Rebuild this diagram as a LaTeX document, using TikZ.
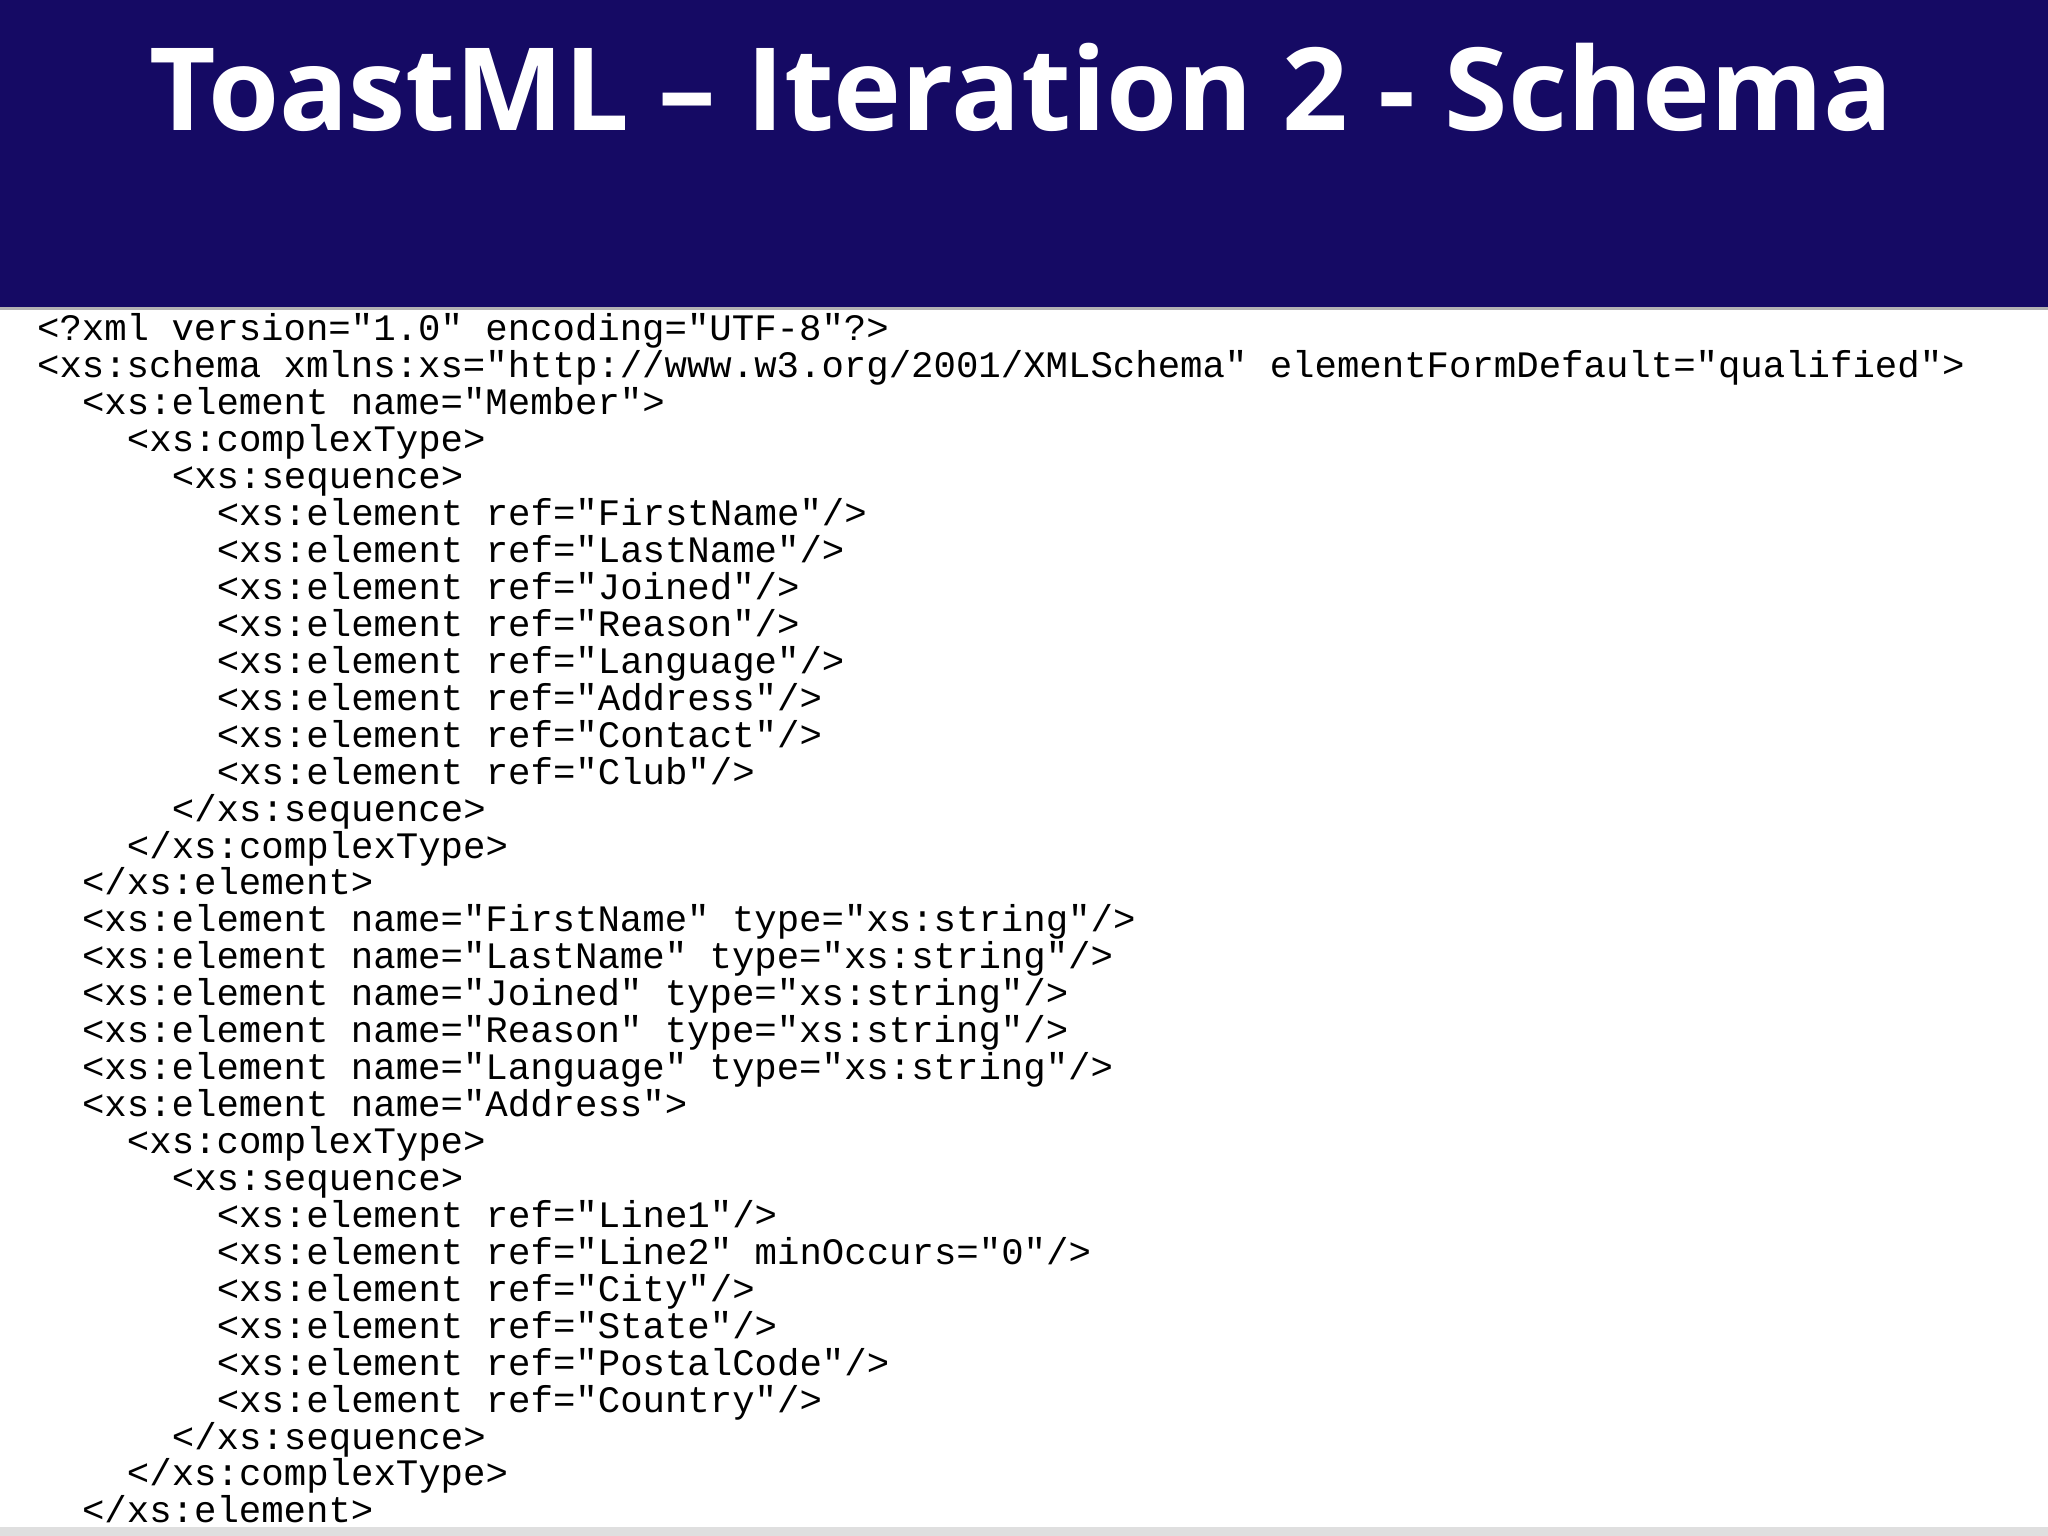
\documentclass[tikz,border=0pt]{standalone}
\usepackage{fontspec}
\setmainfont{Open Sans}
\setmonofont{Liberation Mono}
\definecolor{navy}{HTML}{150A64}
\begin{document}
\begin{tikzpicture}[x=1pt,y=-1pt,
  code/.style={anchor=base west,inner sep=0pt,font=\fontsize{14.3}{14.3}\selectfont\ttfamily}]
\useasboundingbox (0,0) rectangle (784,588);
\fill[white] (0,0) rectangle (784,588);
\fill[navy] (0,0) rectangle (784,117.5);
\fill[gray!60] (0,117.5) rectangle (784,118.5);
\fill[gray!25] (0,584.5) rectangle (784,588);
\node[anchor=base,text=white,inner sep=0pt,font=\fontsize{44}{44}\selectfont\bfseries] (title) at (391,50) {ToastML – Iteration 2 - Schema};
\newcommand\codeline[3]{\node[code] (l#1) at ({14+#2*8.6},{130.5+14.14*#1}) {#3};}
\codeline{0}{0}{<?xml version="1.0" encoding="UTF-8"?>}
\codeline{1}{0}{<xs:schema xmlns:xs="http://www.w3.org/2001/XMLSchema" elementFormDefault="qualified">}
\codeline{2}{2}{<xs:element name="Member">}
\codeline{3}{4}{<xs:complexType>}
\codeline{4}{6}{<xs:sequence>}
\codeline{5}{8}{<xs:element ref="FirstName"/>}
\codeline{6}{8}{<xs:element ref="LastName"/>}
\codeline{7}{8}{<xs:element ref="Joined"/>}
\codeline{8}{8}{<xs:element ref="Reason"/>}
\codeline{9}{8}{<xs:element ref="Language"/>}
\codeline{10}{8}{<xs:element ref="Address"/>}
\codeline{11}{8}{<xs:element ref="Contact"/>}
\codeline{12}{8}{<xs:element ref="Club"/>}
\codeline{13}{6}{</xs:sequence>}
\codeline{14}{4}{</xs:complexType>}
\codeline{15}{2}{</xs:element>}
\codeline{16}{2}{<xs:element name="FirstName" type="xs:string"/>}
\codeline{17}{2}{<xs:element name="LastName" type="xs:string"/>}
\codeline{18}{2}{<xs:element name="Joined" type="xs:string"/>}
\codeline{19}{2}{<xs:element name="Reason" type="xs:string"/>}
\codeline{20}{2}{<xs:element name="Language" type="xs:string"/>}
\codeline{21}{2}{<xs:element name="Address">}
\codeline{22}{4}{<xs:complexType>}
\codeline{23}{6}{<xs:sequence>}
\codeline{24}{8}{<xs:element ref="Line1"/>}
\codeline{25}{8}{<xs:element ref="Line2" minOccurs="0"/>}
\codeline{26}{8}{<xs:element ref="City"/>}
\codeline{27}{8}{<xs:element ref="State"/>}
\codeline{28}{8}{<xs:element ref="PostalCode"/>}
\codeline{29}{8}{<xs:element ref="Country"/>}
\codeline{30}{6}{</xs:sequence>}
\codeline{31}{4}{</xs:complexType>}
\codeline{32}{2}{</xs:element>}
\end{tikzpicture}
\end{document}
